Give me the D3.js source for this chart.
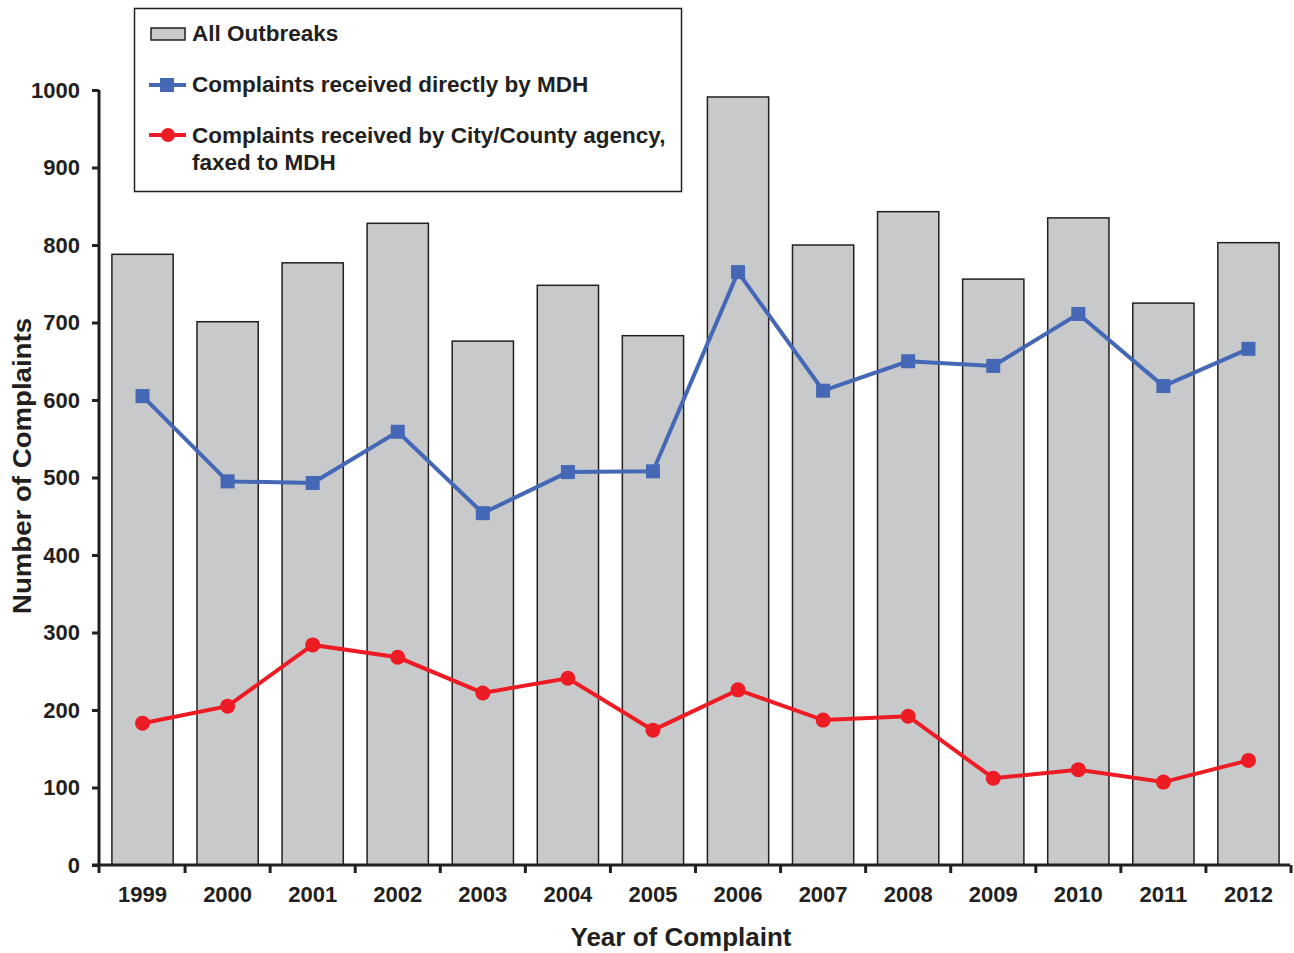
<!DOCTYPE html>
<html>
<head>
<meta charset="utf-8">
<script src="https://cdn.jsdelivr.net/npm/d3@7"></script>
<style>
  body { margin: 0; background: #fff; }
  text { font-family: "Liberation Sans", Arial, sans-serif; font-weight: bold; fill: #231f20; }
</style>
</head>
<body>
<div id="chart"></div>
<script>
const years = ["1999","2000","2001","2002","2003","2004","2005","2006","2007","2008","2009","2010","2011","2012"];
const allOutbreaks = [788, 701, 777, 828, 676, 748, 683, 991, 800, 843, 756, 835, 725, 803];
const directMDH = [605, 495, 493, 559, 454, 507, 508, 765, 612, 650, 644, 711, 618, 666];
const faxedMDH = [183, 205, 284, 268, 222, 241, 174, 226, 187, 192, 112, 123, 107, 135];
const yTicks = [0, 100, 200, 300, 400, 500, 600, 700, 800, 900, 1000];

const W = 1294, H = 953;
const margin = { top: 90, right: 4, bottom: 88, left: 99 };
const width = W - margin.left - margin.right;
const height = H - margin.top - margin.bottom;

const svg = d3.select("#chart").append("svg")
    .attr("width", W)
    .attr("height", H);

const g = svg.append("g")
    .attr("transform", `translate(${margin.left}, ${margin.top})`);

const x = d3.scaleBand()
    .domain(years)
    .range([0, width])
    .paddingInner(0.28)
    .paddingOuter(0.14);

const y = d3.scaleLinear()
    .domain([0, 1000])
    .range([height, 0]);

const axisColor = "#231f20";

// bars
g.selectAll("rect.bar")
    .data(allOutbreaks)
    .enter().append("rect")
    .attr("class", "bar")
    .attr("x", (d, i) => x(years[i]) + 1)
    .attr("y", d => y(d))
    .attr("width", x.bandwidth())
    .attr("height", d => height - y(d))
    .style("fill", "#c8c9cb")
    .style("stroke", "#231f20")
    .style("stroke-width", 1.5);

const cx = i => x(years[i]) + x.bandwidth() / 2 + 1;

// blue line
const blue = "#4467b6";
g.append("path")
    .datum(directMDH)
    .attr("d", d3.line().x((d, i) => cx(i)).y(d => y(d)))
    .style("fill", "none")
    .style("stroke", blue)
    .style("stroke-width", 4);

g.selectAll("rect.sq")
    .data(directMDH)
    .enter().append("rect")
    .attr("class", "sq")
    .attr("x", (d, i) => cx(i) - 7)
    .attr("y", d => y(d) - 7)
    .attr("width", 14)
    .attr("height", 14)
    .style("fill", blue);

// red line
const red = "#ed1c24";
g.append("path")
    .datum(faxedMDH)
    .attr("d", d3.line().x((d, i) => cx(i)).y(d => y(d)))
    .style("fill", "none")
    .style("stroke", red)
    .style("stroke-width", 4);

g.selectAll("circle.dot")
    .data(faxedMDH)
    .enter().append("circle")
    .attr("class", "dot")
    .attr("cx", (d, i) => cx(i))
    .attr("cy", d => y(d))
    .attr("r", 7.5)
    .style("fill", red);

// y axis
const yAxis = g.append("g")
    .call(d3.axisLeft(y).tickValues(yTicks).tickFormat(d3.format("d")).tickSize(7).tickPadding(12));
yAxis.select(".domain").attr("d", `M0,${height}V0`).style("stroke", axisColor).style("stroke-width", 3);
yAxis.selectAll(".tick line").style("stroke", axisColor).style("stroke-width", 3);
yAxis.selectAll(".tick text").style("font-size", "22px").style("fill", axisColor);

// x axis with ticks at category boundaries
const xAxis = g.append("g")
    .attr("transform", `translate(0, ${height})`);
xAxis.append("line")
    .attr("x1", -7).attr("x2", width)
    .style("stroke", axisColor)
    .style("stroke-width", 3);
const bounds = d3.range(years.length + 1).map(i => i === 0 ? 0 : (cx(i - 1) + x.step() / 2));
xAxis.selectAll("line.xt")
    .data(bounds)
    .enter().append("line")
    .attr("class", "xt")
    .attr("x1", d => d).attr("x2", d => d)
    .attr("y1", 0).attr("y2", 8)
    .style("stroke", axisColor)
    .style("stroke-width", 3);
xAxis.selectAll("text")
    .data(years)
    .enter().append("text")
    .attr("x", (d, i) => cx(i))
    .attr("y", 37)
    .style("text-anchor", "middle")
    .style("font-size", "22px")
    .text(d => d);

// axis titles
svg.append("text")
    .attr("x", 681)
    .attr("y", 946)
    .style("text-anchor", "middle")
    .style("font-size", "26px")
    .text("Year of Complaint");

svg.append("text")
    .attr("transform", "translate(31, 466) rotate(-90)")
    .style("text-anchor", "middle")
    .style("font-size", "26px")
    .attr("textLength", 296)
    .attr("lengthAdjust", "spacingAndGlyphs")
    .text("Number of Complaints");

// legend
const legend = svg.append("g");
legend.append("rect")
    .attr("x", 134.5).attr("y", 8.5)
    .attr("width", 547).attr("height", 183)
    .style("fill", "#fff")
    .style("stroke", axisColor)
    .style("stroke-width", 1.5);

legend.append("rect")
    .attr("x", 151).attr("y", 28)
    .attr("width", 34).attr("height", 12)
    .style("fill", "#c8c9cb")
    .style("stroke", axisColor)
    .style("stroke-width", 1.5);
legend.append("text").attr("x", 192).attr("y", 41).style("font-size", "22.5px").text("All Outbreaks");

legend.append("line")
    .attr("x1", 149).attr("x2", 186).attr("y1", 85).attr("y2", 85)
    .style("stroke", blue).style("stroke-width", 4);
legend.append("rect")
    .attr("x", 160).attr("y", 78).attr("width", 14).attr("height", 14)
    .style("fill", blue);
legend.append("text").attr("x", 192).attr("y", 92).style("font-size", "22.5px").text("Complaints received directly by MDH");

legend.append("line")
    .attr("x1", 149).attr("x2", 186).attr("y1", 135).attr("y2", 135)
    .style("stroke", red).style("stroke-width", 4);
legend.append("circle")
    .attr("cx", 168).attr("cy", 135).attr("r", 7)
    .style("fill", red);
legend.append("text").attr("x", 192).attr("y", 143).style("font-size", "22.5px").text("Complaints received by City/County agency,");
legend.append("text").attr("x", 192).attr("y", 170).style("font-size", "22.5px").text("faxed to MDH");
</script>
</body>
</html>
